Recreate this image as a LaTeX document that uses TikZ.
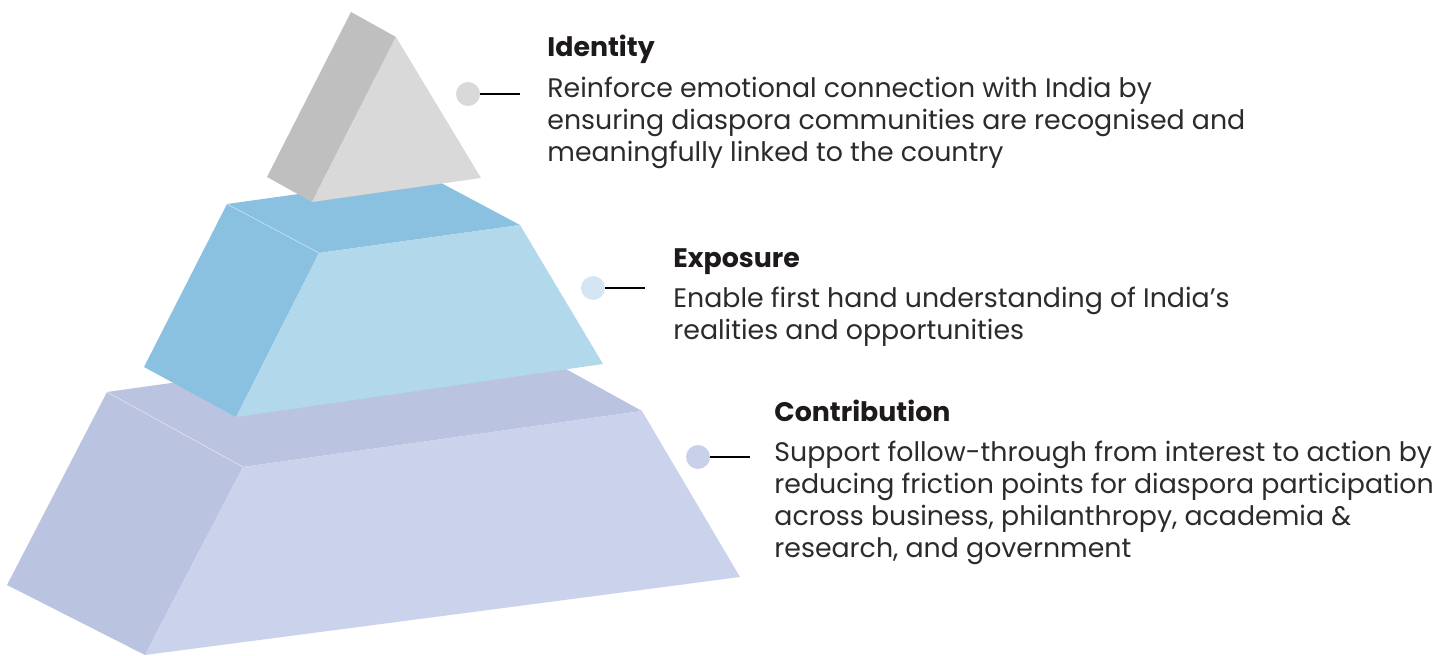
\documentclass[tikz,border=0pt]{standalone}
\usepackage{fontspec}
\setmainfont{Poppins}
\usetikzlibrary{positioning}
\definecolor{tipdark}{HTML}{BFBFBF}
\definecolor{tiplight}{HTML}{D9D9D9}
\definecolor{middark}{HTML}{8AC1E1}
\definecolor{midlight}{HTML}{B2D8EB}
\definecolor{basedark}{HTML}{BAC4E0}
\definecolor{baselight}{HTML}{CBD3EC}
\definecolor{expdot}{HTML}{D4E6F4}
\definecolor{condot}{HTML}{C9D0EA}
\definecolor{inkdark}{HTML}{1E1A1A}
\definecolor{inkbody}{HTML}{2B2B2B}
\begin{document}
\begin{tikzpicture}[
      x=0.5pt, y=-0.5pt,
      seam/.style={draw=white, draw opacity=0.5, line width=0.3pt},
      dot/.style={circle, inner sep=0pt, minimum size=12pt},
      lead/.style={line width=1pt, black},
      heading/.style={anchor=base west, inner sep=0pt, text=inkdark,
                      font=\fontsize{13.4}{16}\selectfont\bfseries},
      blurb/.style={anchor=base west, inner sep=0pt, align=left, text=inkbody,
                    font=\fontsize{13.4}{16}\selectfont}
    ]
    \useasboundingbox (0,0) rectangle (1455,656);

    \fill[basedark] (107,392) -- (506,336) -- (642,411) -- (243,467) -- cycle;
    \fill[basedark] (107,392) -- (243,467) -- (145,655) -- (7,585) -- cycle;
    \fill[baselight] (243,467) -- (642,411) -- (740,577) -- (145,655) -- cycle;
    \draw[seam] (107,392) -- (243,467);

    \fill[middark] (227,204) -- (428,176) -- (520,225) -- (319,253) -- cycle;
    \fill[middark] (227,204) -- (319,253) -- (236,417) -- (144,367) -- cycle;
    \fill[midlight] (319,253) -- (520,225) -- (603,364) -- (236,417) -- cycle;
    \draw[seam] (227,204) -- (319,253);

    \fill[tipdark] (351,12) -- (396,37) -- (312,202) -- (267,177) -- cycle;
    \fill[tiplight] (396,37) -- (481,178) -- (312,202) -- cycle;

    \node[dot, fill=tiplight] (idtdot) at (468,94) {};
    \coordinate (idtend) at (520,94);
    \draw[lead] (idtdot.east) -- (idtend);
    \node[heading] (idttitle) at (547,57) {Identity};
    \node[blurb] (idttext) at (547,162)
      {Reinforce emotional connection with India by\\
       ensuring diaspora communities are recognised and\\
       meaningfully linked to the country};

    \node[dot, fill=expdot] (expdot) at (593,288) {};
    \coordinate (expend) at (645,288);
    \draw[lead] (expdot.east) -- (expend);
    \node[heading] (exptitle) at (673,268) {Exposure};
    \node[blurb] (exptext) at (673,340)
      {Enable first hand understanding of India’s\\
       realities and opportunities};

    \node[dot, fill=condot] (condot) at (698,457) {};
    \coordinate (conend) at (750,457);
    \draw[lead] (condot.east) -- (conend);
    \node[heading] (contitle) at (774,422) {Contribution};
    \node[blurb] (context) at (774,558)
      {Support follow-through from interest to action by\\
       reducing friction points for diaspora participation\\
       across business, philanthropy, academia \&\\
       research, and government};
  \end{tikzpicture}
\end{document}
